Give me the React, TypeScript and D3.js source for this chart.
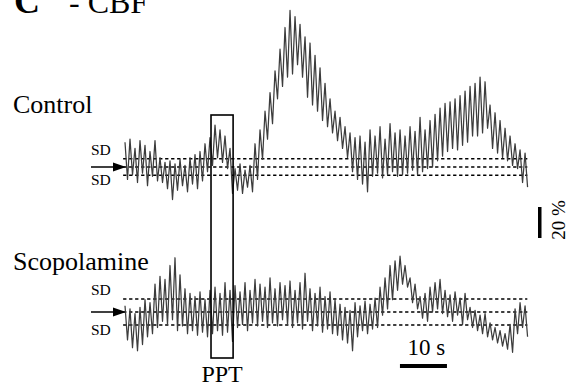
import React from "react";
import * as d3 from "d3";

// CBF change (%), alternating peak / trough, one sample every ~0.53 s
const controlCBF = [
  16, -8, 18, -5, 12, -10, 17, -4, 14, -12, 10, -6, 17, -9, 6, -10, 3, -14, 4, -21,
  2, -15, 5, -12, 1, -16, 6, -11, 8, -14, 10, -9, 15, -3, 19, 1, 27, 6, 24, 3,
  20, -1, 12, -17, -1, -15, 2, -17, -2, -13, 1, -16, 15, -8, 24, 5, 36, 18, 48, 28,
  62, 44, 76, 52, 90, 58, 101, 60, 97, 66, 92, 58, 84, 45, 80, 40, 72, 36, 64, 30,
  54, 26, 44, 22, 36, 17, 32, 12, 26, 6, 22, -3, 19, -8, 20, -11, 16, -16, 24, -6,
  20, -4, 26, -7, 18, -5, 28, -3, 22, -6, 24, -5, 20, -4, 26, -2, 23, -5, 32, -3,
  24, -1, 30, 0, 34, 4, 38, 7, 41, 10, 42, 12, 44, 11, 46, 14, 49, 16, 52, 20,
  54, 20, 58, 22, 55, 25, 40, 12, 35, 9, 30, 6, 25, 4, 20, 1, 15, -1, 11, -10,
  9, -13,
];

const scopolamineCBF = [
  4, -18, 2, -23, -1, -25, 3, -21, 8, -16, 6, -14, 18, -10, 23, -6, 21, -8, 30, -5,
  35, -12, 24, -9, 15, -14, 12, -12, 10, -15, 13, -13, 8, -16, 14, -14, 16, -12, 12, -15,
  19, -13, 14, -19, 17, -10, 13, -8, 19, -12, 14, -7, 21, -9, 18, -6, 16, -10, 22, -7,
  15, -9, 19, -5, 17, -8, 20, -10, 14, -7, 19, -11, 25, -6, 15, -12, 12, -9, 16, -13,
  10, -11, 13, -14, 8, -15, 5, -18, 3, -20, 1, -25, 6, -16, 4, -12, 7, -14, 5, -11,
  9, -10, 16, -2, 22, 2, 30, 8, 33, 14, 36, 18, 30, 16, 22, 6, 18, 2, 10, -4,
  12, -6, 16, 0, 19, 2, 21, -1, 14, -3, 11, -6, 13, -2, 9, -8, 12, -5, 3, -10,
  1, -12, -2, -14, -1, -16, -7, -18, -10, -20, -12, -22, -14, -24, -8, -26, 2, -14,
  6, -10, 4, -16,
];

const SAMPLE_DT = 0.532; // s
const controlSD = 5.4; // %
const scopolamineSD = 8.4; // %
const pptWindow = [18.3, 23.0]; // s
const timeBar = [58.5, 68.5]; // 10 s
const cbfBar = 20; // %

const serif = "'Liberation Serif', 'Times New Roman', serif";

const x = d3.scaleLinear().domain([0, 86]).range([125, 125 + 86 * 4.7]);
const yControl = d3.scaleLinear().domain([0, 20]).range([167, 136]);
const yScop = d3.scaleLinear().domain([0, 20]).range([312, 281]);

const Trace = ({ data, y }: { data: number[]; y: d3.ScaleLinear<number, number> }) => {
  const line = d3
    .line<number>()
    .x((_, i) => x(i * SAMPLE_DT))
    .y((d) => y(d));
  return <path d={line(data) || ""} fill="none" stroke="#3c3c3c" strokeWidth={1.25} strokeLinejoin="round" />;
};

const Baselines = ({ y, sd }: { y: d3.ScaleLinear<number, number>; sd: number }) => {
  const x0 = x(-0.4);
  const x1 = x(85.6);
  return (
    <g>
      {[sd, 0, -sd].map((v, i) => (
        <line key={i} x1={x0} x2={x1} y1={y(v)} y2={y(v)} stroke="#000" strokeWidth={1.5} strokeDasharray="3.3 2.7" />
      ))}
      <text x={91} y={y(sd) - 4} fontFamily={serif} fontSize={15.5}>SD</text>
      <text x={91} y={y(-sd) + 9.5} fontFamily={serif} fontSize={15.5}>SD</text>
      <line x1={91} x2={113} y1={y(0)} y2={y(0)} stroke="#000" strokeWidth={1.5} />
      <path d={`M113,${y(0) - 4.5}L126,${y(0)}L113,${y(0) + 4.5}Z`} fill="#000" />
    </g>
  );
};

export default function App() {
  return (
    <svg width={573} height={390} style={{ position: "absolute", left: 0, top: 0, background: "#fff" }}>
      <text x={14} y={13} fontFamily={serif} fontSize={36} fontWeight="bold">C</text>
      <text x={69} y={13} fontFamily={serif} fontSize={32}>- CBF</text>

      <text x={13} y={113} fontFamily={serif} fontSize={26}>Control</text>
      <text x={13} y={270} fontFamily={serif} fontSize={26}>Scopolamine</text>

      <Baselines y={yControl} sd={controlSD} />
      <Baselines y={yScop} sd={scopolamineSD} />

      <Trace data={controlCBF} y={yControl} />
      <Trace data={scopolamineCBF} y={yScop} />

      <rect
        x={x(pptWindow[0])}
        y={115}
        width={x(pptWindow[1]) - x(pptWindow[0])}
        height={243}
        fill="none"
        stroke="#000"
        strokeWidth={1.6}
      />
      <text x={(x(pptWindow[0]) + x(pptWindow[1])) / 2} y={382} textAnchor="middle" fontFamily={serif} fontSize={24}>PPT</text>

      <rect x={x(timeBar[0])} y={364} width={x(timeBar[1]) - x(timeBar[0])} height={4} fill="#000" />
      <text x={(x(timeBar[0]) + x(timeBar[1])) / 2 + 3} y={355} textAnchor="middle" fontFamily={serif} fontSize={23}>10 s</text>

      <rect x={538} y={238 - (yControl(0) - yControl(cbfBar))} width={3.5} height={yControl(0) - yControl(cbfBar)} fill="#000" />
      <text transform="translate(565,220) rotate(-90)" textAnchor="middle" fontFamily={serif} fontSize={19}>20 %</text>
    </svg>
  );
}
